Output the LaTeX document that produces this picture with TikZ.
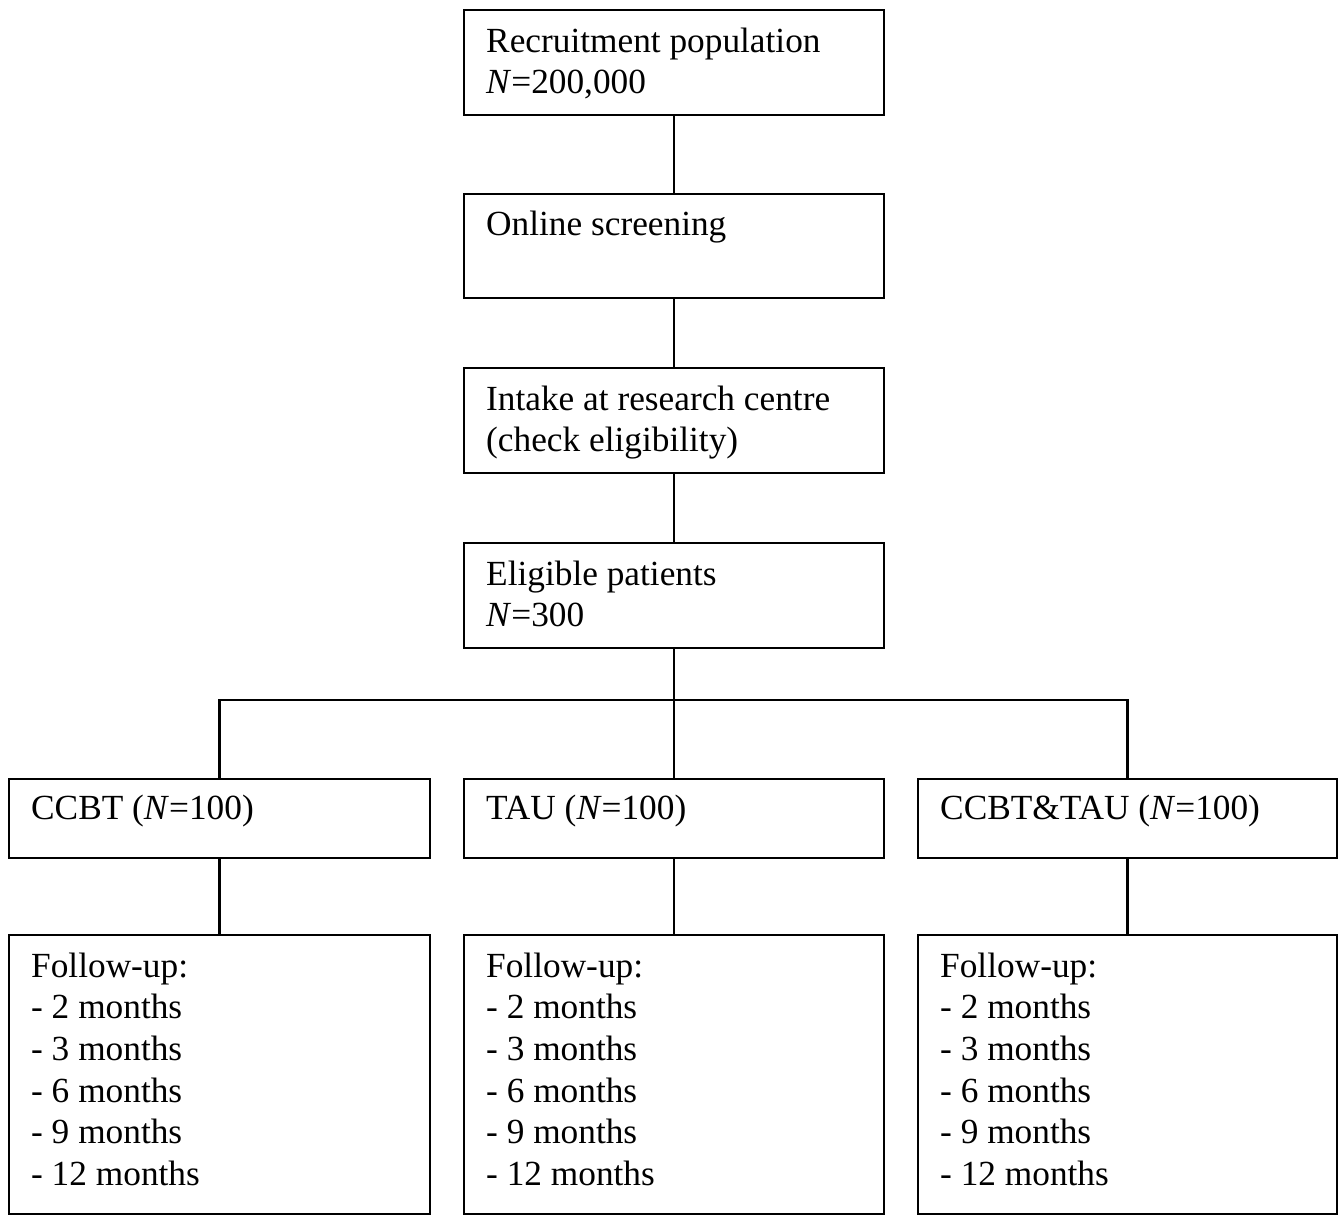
\documentclass[tikz,border=0pt]{standalone}
\usepackage{fontspec}
\setmainfont{Liberation Serif}
\begin{document}
\begin{tikzpicture}[x=1pt,y=-1pt,
  box/.style={draw=black, line width=2.6pt, rectangle, inner sep=0pt, fill=white},
  txt/.style={anchor=north west, inner sep=0pt, align=left, font=\fontsize{35.3}{41.6}\selectfont},
  link/.style={draw=black, line width=2.6pt}]
\useasboundingbox (0,0) rectangle (1338,1216);
\newcommand{\fs}{\rule{0pt}{30pt}}
% top column
\node[box, minimum width=420pt, minimum height=105pt] (b1) at (674,62.5) {};
\node[box, minimum width=420pt, minimum height=104pt] (b2) at (674,246) {};
\node[box, minimum width=420pt, minimum height=105pt] (b3) at (674,420.5) {};
\node[box, minimum width=420pt, minimum height=105pt] (b4) at (674,595.5) {};
% row 5
\node[box, minimum width=421pt, minimum height=79pt] (c1) at (219.5,818.5) {};
\node[box, minimum width=420pt, minimum height=79pt] (c2) at (674,818.5) {};
\node[box, minimum width=419pt, minimum height=79pt] (c3) at (1127.5,818.5) {};
% row 6
\node[box, minimum width=421pt, minimum height=279pt] (d1) at (219.5,1074.5) {};
\node[box, minimum width=420pt, minimum height=279pt] (d2) at (674,1074.5) {};
\node[box, minimum width=419pt, minimum height=279pt] (d3) at (1127.5,1074.5) {};
% texts
\node[txt] (t1) at (486,22) {\fs Recruitment population\\\textit{N}=200,000};
\node[txt] (t2) at (486,205) {\fs Online screening};
\node[txt] (t3) at (486,380) {\fs Intake at research centre\\(check eligibility)};
\node[txt] (t4) at (486,555) {\fs Eligible patients\\\textit{N}=300};
\node[txt] (u1) at (31,789) {\fs CCBT (\textit{N}=100)};
\node[txt] (u2) at (486,789) {\fs TAU (\textit{N}=100)};
\node[txt] (u3) at (940,789) {\fs CCBT\&TAU (\textit{N}=100)};
\node[txt] (v1) at (31,947) {\fs Follow-up:\\- 2 months\\- 3 months\\- 6 months\\- 9 months\\- 12 months};
\node[txt] (v2) at (486,947) {\fs Follow-up:\\- 2 months\\- 3 months\\- 6 months\\- 9 months\\- 12 months};
\node[txt] (v3) at (940,947) {\fs Follow-up:\\- 2 months\\- 3 months\\- 6 months\\- 9 months\\- 12 months};
% connectors
\coordinate (bar) at (674,700);
\draw[link] (b1.south) -- (b2.north);
\draw[link] (b2.south) -- (b3.north);
\draw[link] (b3.south) -- (b4.north);
\draw[link] (b4.south) -- (c2.north);
\draw[link] (c1.north) |- (bar) -| (c3.north);
\draw[link] (c1.south) -- (d1.north);
\draw[link] (c2.south) -- (d2.north);
\draw[link] (c3.south) -- (d3.north);
\end{tikzpicture}
\end{document}
